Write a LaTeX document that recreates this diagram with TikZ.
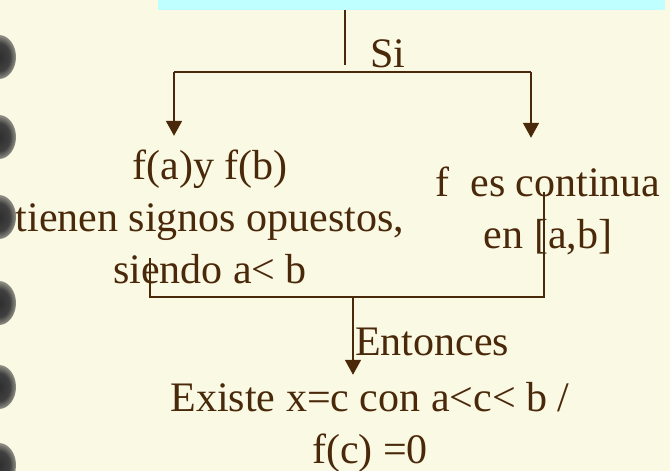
\documentclass[tikz,border=0pt]{standalone}
\usepackage{fontspec}
\setmainfont{Liberation Serif}
\usetikzlibrary{arrows.meta}
\definecolor{paper}{RGB}{250,249,227}
\definecolor{ink}{RGB}{74,40,10}
\definecolor{barcyan}{RGB}{192,255,255}
\pgfdeclareradialshading{ringdot}{\pgfpoint{0bp}{0bp}}{color(0bp)=(black!82); color(16bp)=(black!75); color(36bp)=(paper); color(50bp)=(paper)}

\begin{document}
\begin{tikzpicture}
  [x=1pt,y=-1pt,font=\fontsize{42}{52}\selectfont]
      \tikzstyle{text_style} = [text=ink, inner sep=0, align=center]
      \tikzstyle{line_style} = [draw=ink, line width=1.8]
      \tikzstyle{arrow_style} = [line_style, -{Triangle[width=16pt,length=15pt]}]
  \fill[paper] (0,0) rectangle (670,471);
  \useasboundingbox (0,0) rectangle (670,471);
  \foreach \y in {57,137,217,303,387,465}
    \shade[shading=ringdot] (-1,\y) ellipse [x radius=17pt, y radius=22pt];
  \node[fill=barcyan, inner sep=0, minimum width=507pt, minimum height=10pt, anchor=north west] (bar) at (158,0) {};
  \node[text_style, anchor=base west] (si) at (370,67) {Si};
  \node[text_style] (hyp) at (210,217) {f(a)y f(b)\\tienen signos opuestos,\\siendo a< b};
  \node[text_style] (cont) at (548,211) {f\ \ es continua\\en [a,b]};
  \node[text_style, anchor=base west] (ent) at (355,355) {Entonces};
  \node[text_style] (res) at (370,427) {Existe x=c con a<c< b /\\f(c) =0};
  \coordinate (fork) at (345,72);
  \coordinate (lfork) at (174,72);
  \coordinate (rfork) at (531,72);
  \coordinate (lfoot) at (150,258);
  \coordinate (rfoot) at (544,192);
  \coordinate (join) at (353,297);
  \draw[line_style] (bar.south -| fork) -- ([yshift=7pt]fork);
  \draw[line_style] (lfork) -- (rfork);
  \draw[arrow_style, shorten >=14pt] (lfork) -- (lfork |- hyp.north);
  \draw[arrow_style, shorten >=29pt] (rfork) -- (rfork |- cont.north);
  \draw[line_style, line width=1.4] (lfoot) |- (join) -| (rfoot);
  \draw[arrow_style, shorten >=7pt] (join) -- (join |- res.north);
\end{tikzpicture}
\end{document}
